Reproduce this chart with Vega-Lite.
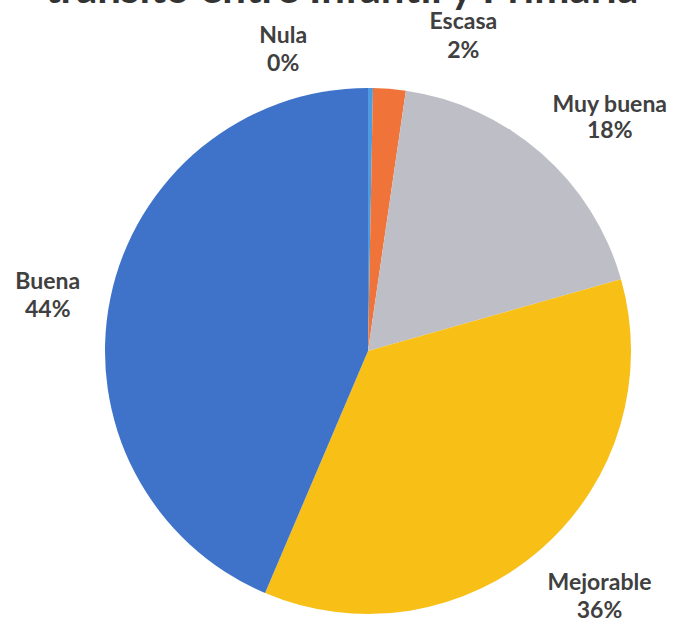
{
  "$schema": "https://vega.github.io/schema/vega-lite/v6.json",
  "width": 526,
  "height": 526,
  "autosize": {"type": "none"},
  "padding": {"left": 105, "top": 88, "right": 58, "bottom": 11},
  "background": "white",
  "title": {
    "text": "tránsito entre Infantil y Primaria",
    "anchor": "start",
    "frame": "group",
    "dx": -60,
    "offset": -34,
    "baseline": "alphabetic",
    "fontSize": 42,
    "font": "Lato",
    "fontWeight": "bold",
    "color": "#333333"
  },
  "data": {
    "values": [
      {"categoria": "Nula", "valor": 0.3},
      {"categoria": "Escasa", "valor": 2.0},
      {"categoria": "Muy buena", "valor": 18.3},
      {"categoria": "Mejorable", "valor": 35.8},
      {"categoria": "Buena", "valor": 43.6}
    ]
  },
  "transform": [
    {"stack": "valor", "groupby": [], "as": ["v0", "v1"]},
    {"calculate": "(datum.v0 + datum.v1) / 2", "as": "mid"},
    {"calculate": "datum.categoria + '\\n' + format(datum.valor, '.0f') + '%'", "as": "etiqueta"}
  ],
  "config": {"view": {"stroke": null}},
  "layer": [
    {
      "mark": {"type": "arc", "outerRadius": 263},
      "encoding": {
        "theta": {"field": "v0", "type": "quantitative", "scale": {"domain": [0, 100], "range": [0, 6.283185307]}},
        "theta2": {"field": "v1"},
        "color": {
          "field": "categoria",
          "type": "nominal",
          "scale": {
            "domain": ["Nula", "Escasa", "Muy buena", "Mejorable", "Buena"],
            "range": ["#4d9be0", "#f0733a", "#bebfc6", "#f8bf16", "#3e73c9"]
          },
          "legend": null
        }
      }
    },
    {
      "transform": [{"filter": "datum.categoria == 'Nula'"}],
      "mark": {"type": "text", "radius": 335, "dx": -88, "dy": 20, "font": "Lato", "fontWeight": "bold", "fontSize": 23, "lineHeight": 28, "lineBreak": "\n", "color": "#404040", "align": "center", "baseline": "middle"},
      "encoding": {"theta": {"field": "mid", "type": "quantitative", "stack": null}, "text": {"field": "etiqueta"}}
    },
    {
      "transform": [{"filter": "datum.categoria == 'Escasa'"}],
      "mark": {"type": "text", "radius": 335, "dx": 68, "dy": 5, "font": "Lato", "fontWeight": "bold", "fontSize": 23, "lineHeight": 29, "lineBreak": "\n", "color": "#404040", "align": "center", "baseline": "middle"},
      "encoding": {"theta": {"field": "mid", "type": "quantitative", "stack": null}, "text": {"field": "etiqueta"}}
    },
    {
      "transform": [{"filter": "datum.categoria == 'Muy buena'"}],
      "mark": {"type": "text", "radius": 335, "dx": 21, "dy": 6, "font": "Lato", "fontWeight": "bold", "fontSize": 23, "lineHeight": 26, "lineBreak": "\n", "color": "#404040", "align": "center", "baseline": "middle"},
      "encoding": {"theta": {"field": "mid", "type": "quantitative", "stack": null}, "text": {"field": "etiqueta"}}
    },
    {
      "transform": [{"filter": "datum.categoria == 'Mejorable'"}],
      "mark": {"type": "text", "radius": 335, "dx": 10, "dy": -19, "font": "Lato", "fontWeight": "bold", "fontSize": 23, "lineHeight": 28, "lineBreak": "\n", "color": "#404040", "align": "center", "baseline": "middle"},
      "encoding": {"theta": {"field": "mid", "type": "quantitative", "stack": null}, "text": {"field": "etiqueta"}}
    },
    {
      "transform": [{"filter": "datum.categoria == 'Buena'"}],
      "mark": {"type": "text", "radius": 335, "dx": 8, "dy": -2, "font": "Lato", "fontWeight": "bold", "fontSize": 23, "lineHeight": 28, "lineBreak": "\n", "color": "#404040", "align": "center", "baseline": "middle"},
      "encoding": {"theta": {"field": "mid", "type": "quantitative", "stack": null}, "text": {"field": "etiqueta"}}
    }
  ]
}
